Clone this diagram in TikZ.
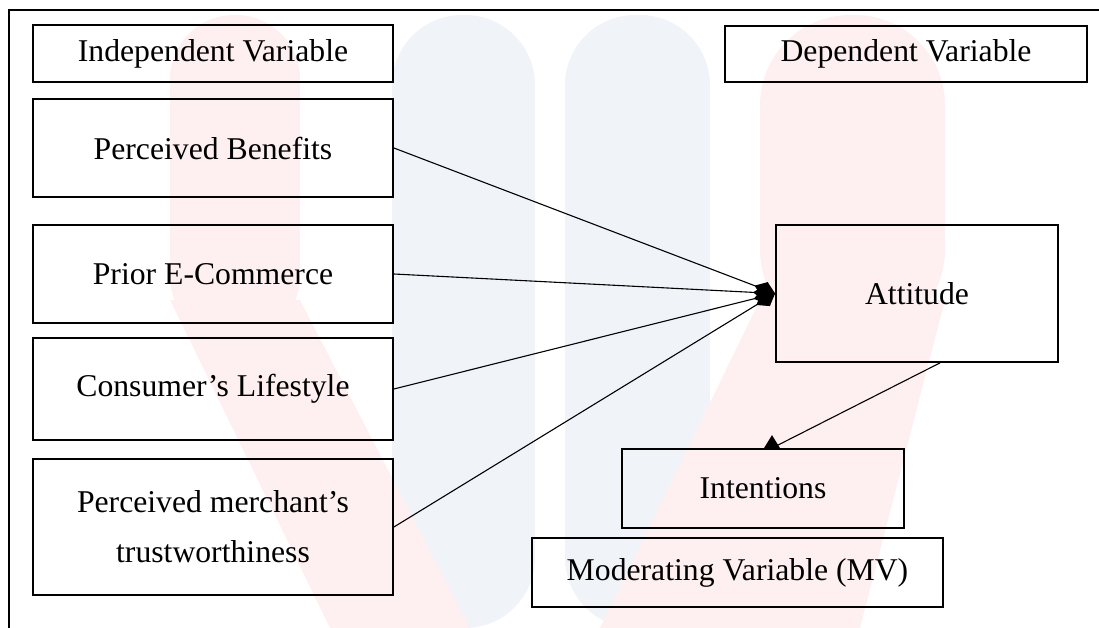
\documentclass[tikz,border=0pt]{standalone}
\usepackage{fontspec}
\setmainfont{Liberation Serif}
\usetikzlibrary{arrows.meta}
\definecolor{wmred}{RGB}{254,240,240}
\definecolor{wmblue}{RGB}{240,244,249}

\begin{document}
\begin{tikzpicture}[x=1pt,y=-1pt,
    varbox/.style={draw,line width=1.8pt,align=center,inner sep=0pt,
        font=\fontsize{31.7}{50}\selectfont},
    link/.style={line width=1.1pt,-{Diamond[length=22pt,width=16pt]}}]
    \useasboundingbox (0,0) rectangle (1099,628);

    % faint logo in the background
    \fill[wmblue,rounded corners=70pt] (392,628) -- (392,15) -- (535,15) -- (535,628) -- cycle;
    \fill[wmblue,rounded corners=70pt] (565,628) -- (565,15) -- (710,15) -- (710,628) -- cycle;
    \fill[wmred,rounded corners=64pt] (170,340) -- (170,15) -- (300,15) -- (300,340) -- cycle; % left pillar
    \fill[wmred] (170,300) -- (300,300) -- (470,628) -- (330,628) -- cycle; % left band
    \fill[wmred,rounded corners=90pt] (760,340) -- (760,15) -- (945,15) -- (945,340) -- cycle; % right pillar
    \fill[wmred] (760,300) -- (945,300) -- (860,628) -- (600,628) -- cycle; % right band

    % outer frame (top and left only)
    \draw[line width=1.8pt] (9,628) -- (9,10) -- (1099,10);

    % headings
    \node[varbox,minimum width=360pt,minimum height=57pt] (indep) at (213,53.5) {Independent Variable};
    \node[varbox,minimum width=362pt,minimum height=56pt] (dep) at (906,54) {Dependent Variable};

    % independent variables
    \node[varbox,minimum width=360pt,minimum height=98pt] (benefit) at (213,148) {Perceived Benefits};
    \node[varbox,minimum width=360pt,minimum height=98pt] (prior) at (213,274) {Prior E-Commerce};
    \node[varbox,minimum width=360pt,minimum height=102pt] (lifestyle) at (213,389) {Consumer’s Lifestyle};
    \node[varbox,minimum width=360pt,minimum height=136pt] (merchant) at (213,527) {Perceived merchant’s\\trustworthiness};

    % dependent and moderating
    \node[varbox,minimum width=282pt,minimum height=137pt] (attitude) at (917,293.5) {Attitude};
    \node[varbox,minimum width=282pt,minimum height=79pt] (intent) at (763,488.5) {Intentions};
    \node[varbox,minimum width=411pt,minimum height=69pt] (moder) at (737.5,572.5) {Moderating Variable (MV)};

    % links into attitude
    \draw[link] (benefit.east) -- (attitude.west);
    \draw[link] (prior.east) -- (attitude.west);
    \draw[link] (lifestyle.east) -- (attitude.west);
    \draw[link] (merchant.east) -- (attitude.west);

    % attitude to intentions
    \coordinate (tip) at ([xshift=9pt]intent.north);
    \draw[line width=1.1pt] ([xshift=23pt]attitude.south) -- (tip);
    \fill (tip) ++(-8,0) -- ++(8,-13) -- ++(8,13) -- cycle;
\end{tikzpicture}
\end{document}
